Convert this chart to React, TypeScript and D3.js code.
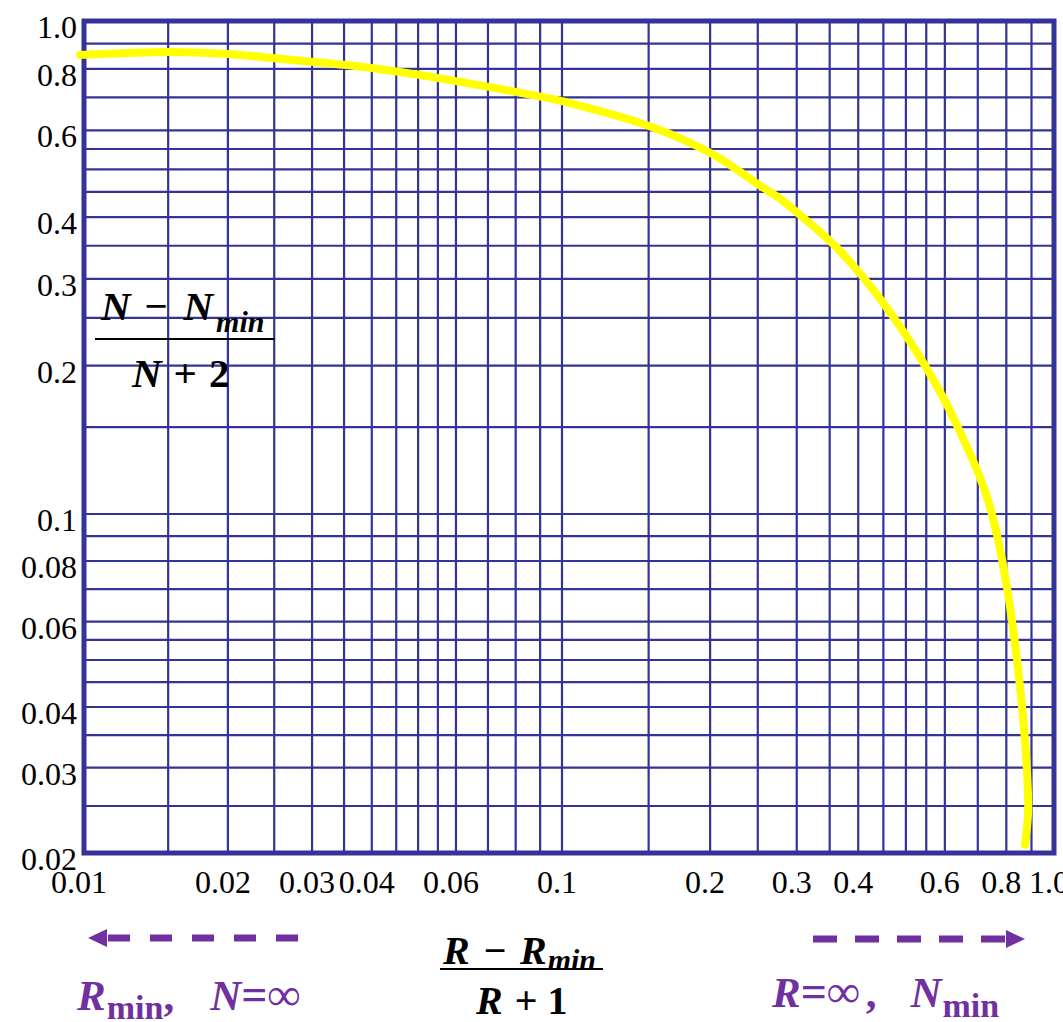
import React from "react";
import * as d3 from "d3";

// Curve values: X = (R-Rmin)/(R+1), Y = (N-Nmin)/(N+2)
const curveX = [0.00981, 0.01513, 0.02001, 0.02485, 0.03028, 0.03549, 0.0458, 0.05636, 0.07035, 0.09127, 0.1, 0.1523, 0.2037, 0.2514, 0.274, 0.3103, 0.3589, 0.4073, 0.4577, 0.5028, 0.552, 0.606, 0.65, 0.6976, 0.734, 0.766, 0.806, 0.833, 0.853, 0.873, 0.881, 0.886, 0.873];
const curveY = [0.853, 0.8654, 0.857, 0.841, 0.826, 0.814, 0.788, 0.763, 0.735, 0.701, 0.688, 0.6095, 0.535, 0.465, 0.44, 0.398, 0.3497, 0.3039, 0.2617, 0.2286, 0.1968, 0.1665, 0.1439, 0.1228, 0.1067, 0.0905, 0.0687, 0.0542, 0.044, 0.0342, 0.0297, 0.0243, 0.0208];

const xGrid = [0.015, 0.02, 0.025, 0.03, 0.035, 0.04, 0.045, 0.05, 0.055, 0.06, 0.07, 0.08, 0.09, 0.1, 0.15, 0.2, 0.25, 0.3, 0.35, 0.4, 0.45, 0.5, 0.55, 0.6, 0.7, 0.8, 0.9];
const yGrid = [0.9, 0.8, 0.7, 0.6, 0.55, 0.5, 0.45, 0.4, 0.35, 0.3, 0.25, 0.2, 0.15, 0.1, 0.09, 0.08, 0.07, 0.06, 0.055, 0.05, 0.045, 0.04, 0.035, 0.03, 0.025];

const xTickLabels = ["0.01", "0.02", "0.03", "0.04", "0.06", "0.1", "0.2", "0.3", "0.4", "0.6", "0.8", "1.0"];
const yTickLabels = ["1.0", "0.8", "0.6", "0.4", "0.3", "0.2", "0.1", "0.08", "0.06", "0.04", "0.03", "0.02"];

const W = 1063;
const H = 1022;
const GRID = "#333399";
const PURPLE = "#7030A0";
const SERIF = "'Liberation Serif', 'Times New Roman', serif";

export default function App() {
  const x = d3.scaleLog().domain([0.01, 0.1, 1]).range([84, 562, 1054]);
  const y = d3.scaleLog().domain([1, 0.1, 0.02]).range([21, 514, 853]);
  const [x0, x1] = [x(0.01), x(1)];
  const [y0, y1] = [y(1), y(0.02)];

  const pts = curveX.map((v, i) => [v, curveY[i]] as [number, number]);
  const line = d3
    .line<[number, number]>()
    .x((d) => x(d[0]))
    .y((d) => y(d[1]))
    .curve(d3.curveCatmullRom.alpha(0.5));

  return (
    <svg
      width={W}
      height={H}
      viewBox={`0 0 ${W} ${H}`}
      style={{ position: "absolute", left: 0, top: 0, display: "block", background: "#fff" }}
    >
      <rect x={0} y={0} width={W} height={H} fill="#fff" />
      {/* grid */}
      {xGrid.map((v) => (
        <line key={"vx" + v} x1={x(v)} x2={x(v)} y1={y0} y2={y1} stroke={GRID} strokeWidth={2.2} />
      ))}
      {yGrid.map((v) => (
        <line key={"hy" + v} x1={x0} x2={x1} y1={y(v)} y2={y(v)} stroke={GRID} strokeWidth={2.2} />
      ))}
      <rect x={x0} y={y0} width={x1 - x0} height={y1 - y0} fill="none" stroke={GRID} strokeWidth={5} />

      {/* tick labels */}
      {yTickLabels.map((t) => (
        <text key={"yl" + t} x={77} y={y(+t) + 17} textAnchor="end" fontFamily={SERIF} fontSize={32} fill="#000">
          {t}
        </text>
      ))}
      {xTickLabels.map((t) => (
        <text key={"xl" + t} x={x(+t) - 5} y={893} textAnchor="middle" fontFamily={SERIF} fontSize={32} fill="#000">
          {t}
        </text>
      ))}

      {/* Y axis title fraction */}
      <g fontFamily={SERIF} fontWeight="bold" fill="#000">
        <text x={101} y={320} fontSize={41} fontStyle="italic">
          <tspan>N</tspan>
          <tspan dx={13}>−</tspan>
          <tspan dx={15}>N</tspan>
          <tspan fontSize={30} dy={12} dx={3}>min</tspan>
        </text>
        <line x1={95} x2={275} y1={339} y2={339} stroke="#000" strokeWidth={2} />
        <text x={132} y={387} fontSize={41}>
          <tspan fontStyle="italic">N</tspan>
          <tspan dx={12}>+</tspan>
          <tspan dx={12}>2</tspan>
        </text>
      </g>

      {/* X axis title fraction */}
      <g fontFamily={SERIF} fontWeight="bold" fill="#000">
        <text x={443} y={964} fontSize={40} fontStyle="italic">
          <tspan>R</tspan>
          <tspan dx={13}>−</tspan>
          <tspan dx={13}>R</tspan>
          <tspan fontSize={30} dy={6} dx={1}>min</tspan>
        </text>
        <line x1={440} x2={603} y1={969} y2={969} stroke="#000" strokeWidth={2} />
        <text x={476} y={1014} fontSize={40}>
          <tspan fontStyle="italic">R</tspan>
          <tspan dx={12}>+</tspan>
          <tspan dx={10}>1</tspan>
        </text>
      </g>

      {/* curve */}
      <path d={line(pts) || ""} fill="none" stroke="#FFFF00" strokeWidth={8} strokeLinecap="round" strokeLinejoin="round" />

      {/* arrows */}
      <line x1={298} x2={105} y1={938} y2={938} stroke={PURPLE} strokeWidth={7} strokeDasharray="22 20" />
      <polygon points={`88,938 107,929 107,947`} fill={PURPLE} />
      <line x1={813} x2={1007} y1={939} y2={939} stroke={PURPLE} strokeWidth={7} strokeDasharray="24 18" />
      <polygon points={`1025,939 1006,930 1006,948`} fill={PURPLE} />

      {/* bottom annotations */}
      <text x={77} y={1010} fontFamily={SERIF} fontWeight="bold" fontSize={43} fill={PURPLE}>
        <tspan fontStyle="italic">R</tspan>
        <tspan fontSize={34} dy={9} dx={1}>min</tspan>
        <tspan dy={-9}>,</tspan>
        <tspan dx={36} fontStyle="italic">N</tspan>
        <tspan fontSize={46}>=∞</tspan>
      </text>
      <text x={772} y={1007} fontFamily={SERIF} fontWeight="bold" fontSize={43} fill={PURPLE}>
        <tspan fontStyle="italic">R</tspan>
        <tspan fontSize={46}>=∞</tspan>
        <tspan dx={6}>,</tspan>
        <tspan dx={34} fontStyle="italic">N</tspan>
        <tspan fontSize={34} dy={10} dx={1}>min</tspan>
      </text>
    </svg>
  );
}
